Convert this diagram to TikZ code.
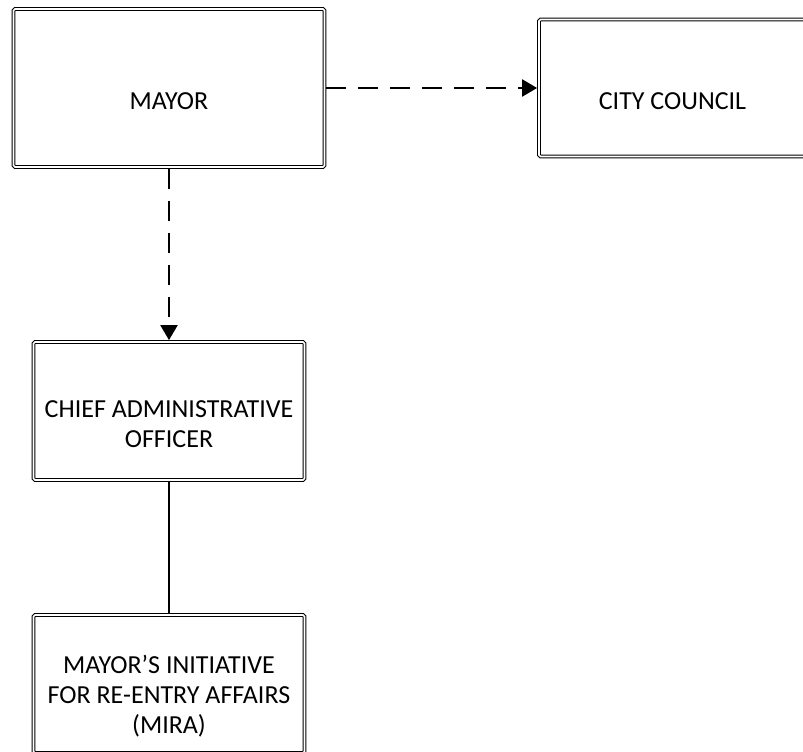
\documentclass[tikz,border=0pt]{standalone}
\usepackage{fontspec}
\setmainfont{Carlito}
\usetikzlibrary{positioning,arrows.meta}
\newcommand{\capgap}{\rule{0pt}{43pt}}

\begin{document}
\begin{tikzpicture}[x=1pt, y=-1pt,
	  office/.style = {shape=rectangle, rounded corners=1.5pt,
	    draw, double, double distance=1.6pt, line width=1.1pt,
	    outer sep=1.9pt, align=center, inner sep=2pt,
	    font=\fontsize{26}{30}\selectfont},
	  report/.style = {dash pattern=on 20pt off 12pt, line width=2.2pt,
	    -{Triangle[length=15pt,width=17pt]}},
	  link/.style = {line width=1.3pt}]
	  \useasboundingbox (0,0) rectangle (803,752);
	  \node[office, minimum width=311pt, minimum height=158pt] (mayor) at (169,88) {\capgap MAYOR};
	  \node[office, minimum width=267pt, minimum height=137pt] (council) at (672.5,88) {\capgap CITY COUNCIL};
	  \node[office, minimum width=271pt, minimum height=138pt] (cao) at (169,411) {\capgap CHIEF ADMINISTRATIVE\\OFFICER};
	  \node[office, minimum width=271pt, minimum height=138pt] (mira) at (169,684) {\capgap MAYOR’S INITIATIVE\\FOR RE-ENTRY AFFAIRS\\(MIRA)};
	  \draw[report] (mayor) -- (council);
	  \draw[report] (mayor) -- (cao);
	  \draw[link] (cao) -- (mira);
\end{tikzpicture}
\end{document}
